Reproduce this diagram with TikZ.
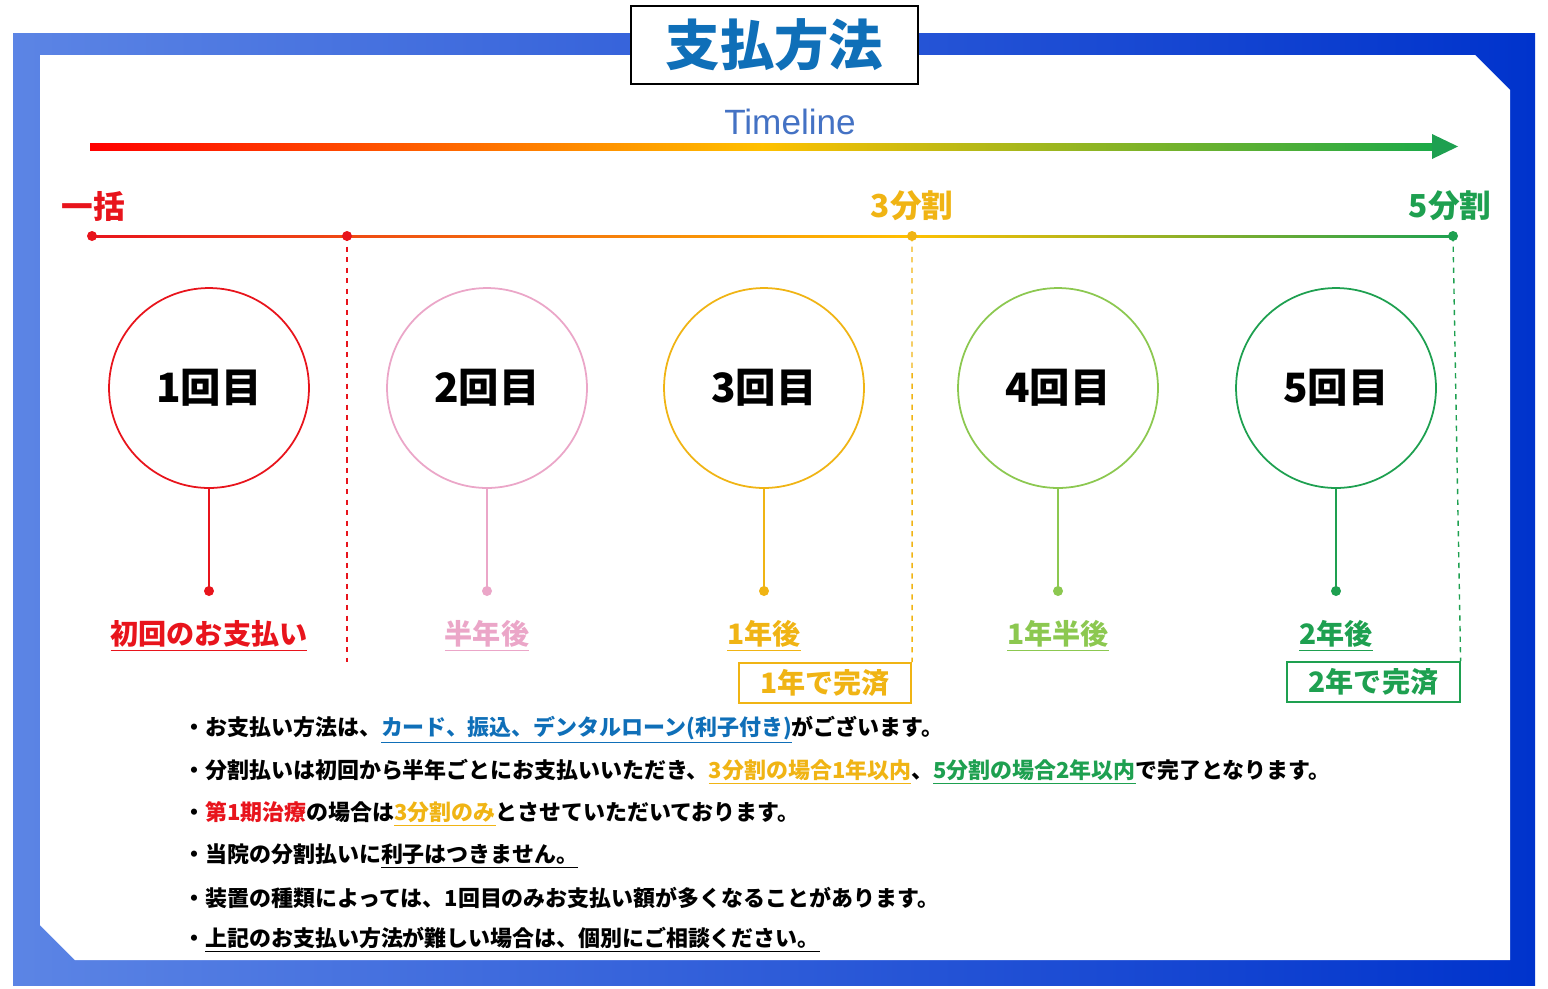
\documentclass[tikz,border=0pt]{standalone}
\usepackage{fontspec}
\setsansfont{Liberation Sans}
\newfontfamily\jp{Noto Sans CJK JP}
\usetikzlibrary{positioning, calc, shapes}

\definecolor{frameblue}{HTML}{3F6FE0}
\definecolor{titleblue}{HTML}{0F6FB8}
\definecolor{tlblue}{HTML}{4472C4}
\definecolor{cred}{HTML}{E8141C}
\definecolor{cpink}{HTML}{EBA6C8}
\definecolor{cgold}{HTML}{F0B414}
\definecolor{clime}{HTML}{8CC850}
\definecolor{cgreen}{HTML}{1EA050}
\definecolor{corange}{HTML}{FFC000}

\tikzset{
  stage/.style={draw=#1, circle, line width=1pt, minimum size=4cm, fill=white,
    font=\jp\bfseries\fontsize{23}{23}\selectfont},
  when/.style={text=#1, font=\jp\bfseries\fontsize{16}{16}\selectfont},
  plan/.style={text=#1, font=\jp\bfseries\fontsize{18}{18}\selectfont},
  donebox/.style={draw=#1, text=#1, line width=1pt, inner sep=3pt, minimum width=3.45cm,
    minimum height=0.8cm, font=\jp\bfseries\fontsize{16}{16}\selectfont},
  note/.style={anchor=west, inner sep=0pt, font=\jp\bfseries\fontsize{12.5}{12.5}\selectfont}
}

\begin{document}
\begin{tikzpicture}[x=0.02cm, y=-0.02cm]
		\useasboundingbox (0,0) rectangle (1548,988);
		%Frame
		\shade[left color=frameblue!85, right color=blue!75!cyan!80!black] (13,33) rectangle (1535,985);
		\fill[white] (40,55) -- (1475,55) -- (1510,90) -- (1510,960) -- (75,960) -- (40,925) -- cycle;
		\node (title) at (774.5,45) [draw, line width=1.2pt, fill=white, minimum width=5.74cm,
		minimum height=1.56cm, text=titleblue, font=\jp\bfseries\fontsize{31}{31}\selectfont]{支払方法};
		
		%Timeline arrow
		\node (tl) at (790,122) [text=tlblue, font=\sffamily\fontsize{20}{20}\selectfont]{Timeline};
		\shade[left color=red, right color=cgreen!90!green, middle color=corange] (90,143) rectangle (1434,150);
		\fill[cgreen] (1432,134) -- (1458,146.5) -- (1432,159) -- cycle;
		
		%Plan line
		\coordinate (p0) at (92,236);
		\coordinate (p1) at (347,236);
		\coordinate (p3) at (912,236);
		\coordinate (p5) at (1453,236);
		\shade[left color=cred, right color=corange] (92,235) rectangle (912,237.5);
		\shade[left color=corange, right color=cgreen] (912,235) rectangle (1453,237.5);
		\fill[cred] (p0) circle (5);
		\fill[cred] (p1) circle (5);
		\fill[cgold] (p3) circle (5);
		\fill[cgreen] (p5) circle (5);
		\node (lump) at (93,206) [plan=cred]{一括};
		\node (three) at (912,206) [plan=cgold]{3分割};
		\node (five) at (1450,206) [plan=cgreen]{5分割};
		
		%Completion boxes
		\node (done3) at (825,683) [donebox=cgold]{1年で完済};
		\node (done5) at (1373.5,682) [donebox=cgreen]{2年で完済};
		\coordinate (end1) at (347,662);
		\draw[cred, dashed, line width=0.8pt] (p1) -- (end1);
		\draw[cgold, dashed, line width=0.8pt] (p3) -- (done3.north east);
		\draw[cgreen, dashed, line width=0.8pt] (p5) -- (done5.north east);
		
		%Payments
		\foreach \i/\x/\c/\t in {1/209/cred/初回のお支払い, 2/487/cpink/半年後, 3/764/cgold/1年後,
		4/1058/clime/1年半後, 5/1336/cgreen/2年後} {
			\node (pay\i) at (\x,388) [stage=\c]{\i 回目};
			\coordinate (dot\i) at (\x,591);
			\draw[\c, line width=1pt] (pay\i) -- (dot\i);
			\fill[\c] (dot\i) circle (5);
			\node (when\i) at (\x,636) [when=\c]{\underline{\t}};
		}
		
		%Notes
		\node (n1) at (183,730) [note]{・お支払い方法は、\textcolor{titleblue}{\underline{カード、振込、デンタルローン(利子付き)}}がございます。};
		\node (n2) at (183,772) [note]{・分割払いは初回から半年ごとにお支払いいただき、\textcolor{cgold}{\underline{3分割の場合1年以内}}、\textcolor{cgreen}{\underline{5分割の場合2年以内}}で完了となります。};
		\node (n3) at (183,814) [note]{・\textcolor{cred}{第1期治療}の場合は\textcolor{cgold}{\underline{3分割のみ}}とさせていただいております。};
		\node (n4) at (183,856) [note]{・当院の分割払いに\underline{利子はつきません。}};
		\node (n5) at (183,898) [note]{・装置の種類によっては、1回目のみお支払い額が多くなることがあります。};
		\node (n6) at (183,940) [note]{・\underline{上記のお支払い方法が難しい場合は、個別にご相談ください。}};
\end{tikzpicture}
\end{document}
